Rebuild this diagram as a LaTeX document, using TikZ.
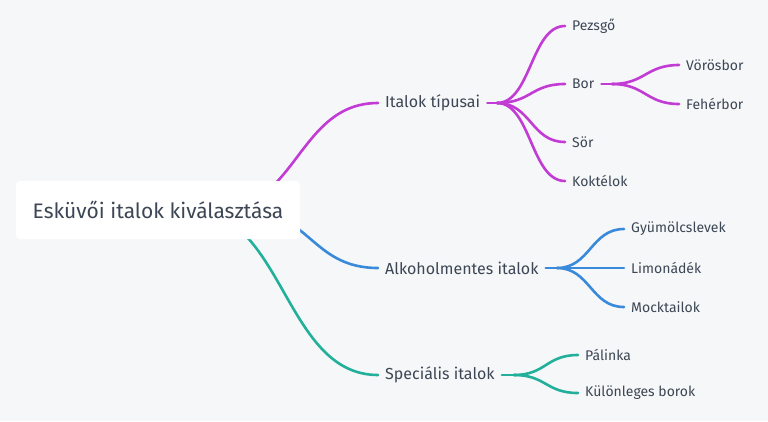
\documentclass[tikz,border=0pt]{standalone}
\usepackage{fontspec}
\setmainfont{Fira Sans}
\usetikzlibrary{backgrounds}
\definecolor{ink}{HTML}{3C4654}
\definecolor{paper}{HTML}{F6F7F9}
\definecolor{purp}{HTML}{C23BD4}
\definecolor{blu}{HTML}{3A8ADB}
\definecolor{teal}{HTML}{22B09B}

\begin{document}
\begin{tikzpicture}[x=1pt, y=-1pt,
    every node/.style = {text=ink, anchor=west, inner xsep=7pt, inner ysep=0pt},
    rootbox/.style = {anchor=center, fill=white, rounded corners=4pt,
      minimum width=284pt, minimum height=58pt, font=\fontsize{21}{24}\selectfont},
    topic/.style = {font=\fontsize{16}{19}\selectfont},
    leaf/.style = {font=\fontsize{14}{17}\selectfont},
    link/.style = {line width=2.6pt, line cap=round}]
  \useasboundingbox (0,0) rectangle (768,421);
  \node[rootbox] (root) at (158,210) {Esküvői italok kiválasztása};
  % first level
  \node[topic] (tipusai) at (378,103) {Italok típusai};
  \node[topic] (alkmentes) at (378,268) {Alkoholmentes italok};
  \node[topic] (specialis) at (378,375) {Speciális italok};
  % drinks
  \node[leaf] (pezsgo) at (565,26) {Pezsgő};
  \node[leaf] (bor) at (565,84) {Bor};
  \node[leaf] (sor) at (565,142) {Sör};
  \node[leaf] (koktel) at (565,181) {Koktélok};
  \node[leaf] (voros) at (679,65) {Vörösbor};
  \node[leaf] (feher) at (679,104) {Fehérbor};
  \node[leaf] (gyumolcs) at (624,229) {Gyümölcslevek};
  \node[leaf] (limonade) at (624,268) {Limonádék};
  \node[leaf] (mocktail) at (624,307) {Mocktailok};
  \node[leaf] (palinka) at (578,355) {Pálinka};
  \node[leaf] (kulonleges) at (578,393) {Különleges borok};
  % hidden start points and forks
  \coordinate (rp) at (217,210);
  \coordinate (rb) at (243,210);
  \coordinate (rt) at (190,210);
  \coordinate (jp) at (497,103);
  \coordinate (jbor) at (612,84);
  \coordinate (jb) at (557,268);
  \coordinate (jt) at (514,375);
  \begin{scope}[on background layer]
    \fill[paper] (0,0) rectangle (768,421);
    \draw[link,purp] (rp) .. controls +(80,0) and +(-80,0) .. (tipusai.west);
    \draw[link,blu] (rb) .. controls +(67,0) and +(-67,0) .. (alkmentes.west);
    \draw[link,teal] (rt) .. controls +(94,0) and +(-94,0) .. (specialis.west);
    \draw[link,purp] (tipusai.east) -- (jp);
    \foreach \c in {pezsgo,bor,sor,koktel}
      \draw[link,purp] (jp) .. controls +(34,0) and +(-34,0) .. (\c.west);
    \draw[link,purp] (bor.east) -- (jbor);
    \foreach \c in {voros,feher}
      \draw[link,purp] (jbor) .. controls +(33,0) and +(-33,0) .. (\c.west);
    \draw[link,blu] (alkmentes.east) -- (jb);
    \foreach \c in {gyumolcs,limonade,mocktail}
      \draw[link,blu] (jb) .. controls +(33,0) and +(-33,0) .. (\c.west);
    \draw[link,teal] (specialis.east) -- (jt);
    \foreach \c in {palinka,kulonleges}
      \draw[link,teal] (jt) .. controls +(32,0) and +(-32,0) .. (\c.west);
  \end{scope}
\end{tikzpicture}
\end{document}
